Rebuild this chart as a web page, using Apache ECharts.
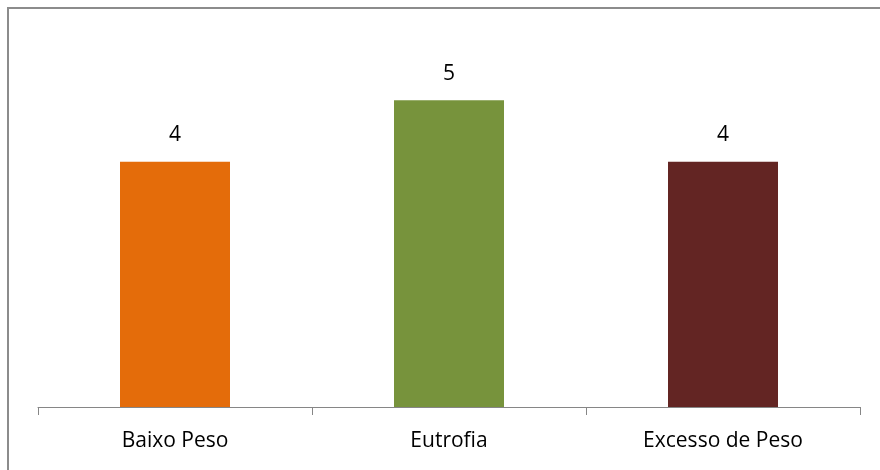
<!DOCTYPE html>
<html><head><meta charset="utf-8">
<script src="https://cdn.jsdelivr.net/npm/echarts@6/dist/echarts.min.js"></script>
<style>html,body{margin:0;padding:0;background:#fff}#c{width:880px;height:470px}</style>
</head><body><div id="c"></div>
<script>
const categories = ['Baixo Peso', 'Eutrofia', 'Excesso de Peso'];
const values = [4, 5, 4];
const colors = ['#E46C0A', '#77933C', '#632523'];

const chart = echarts.init(document.getElementById('c'), null, {renderer: 'canvas'});
chart.setOption({
  animation: false,
  graphic: [{
    type: 'rect', shape: {x: 8, y: 8, width: 900, height: 500},
    style: {fill: 'none', stroke: '#8c8c8c', lineWidth: 2}, silent: true, z: -1
  }],
  grid: {left: 38, right: 20, top: 39, bottom: 63},
  xAxis: {
    type: 'category', data: categories,
    axisLine: {lineStyle: {color: '#868686', width: 1}},
    axisTick: {show: true, length: 8, lineStyle: {color: '#868686'}},
    axisLabel: {color: '#000', fontFamily: 'Open Sans', fontSize: 21, margin: 24}
  },
  yAxis: {type: 'value', min: 0, max: 6, show: false, splitLine: {show: false}},
  series: [{
    type: 'bar', barWidth: 110,
    data: values.map((v, i) => ({value: v, itemStyle: {color: colors[i]}})),
    label: {show: true, position: 'top', distance: 16, color: '#000', fontFamily: 'Open Sans', fontSize: 21}
  }]
});
</script></body></html>
